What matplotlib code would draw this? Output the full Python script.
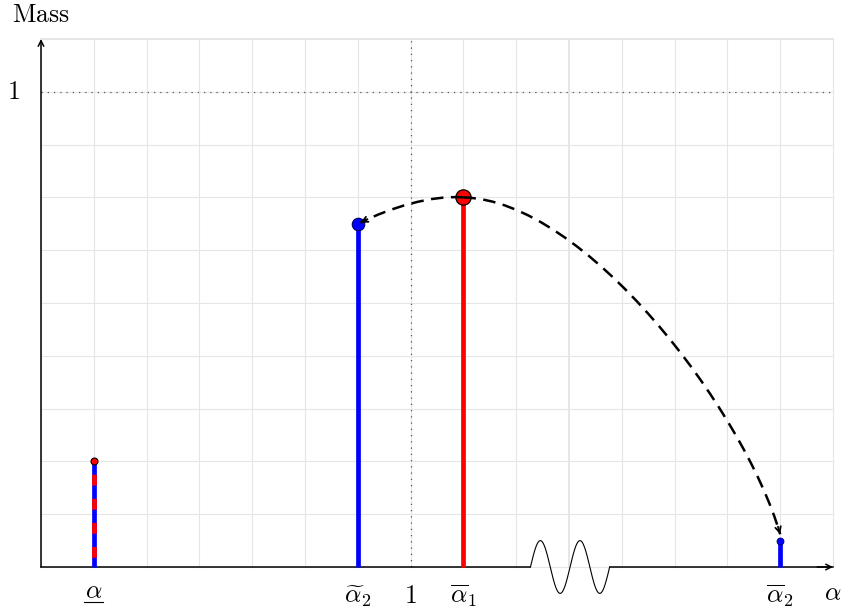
"""
質量移動の模式図
"""
import numpy as np
import matplotlib
matplotlib.use("Agg")
import matplotlib.pyplot as plt
from matplotlib.path import Path
from matplotlib.patches import PathPatch

plt.rcParams["mathtext.fontset"] = "cm"
plt.rcParams["font.family"] = "serif"
plt.rcParams["font.serif"] = ["DejaVu Serif"]

# --- data (grid units, mass 1 = 9) ---
x_max, y_max = 15, 10
mass_one = 9
x_alpha_low, x_alpha2_tilde, x_one, x_alpha1_bar, x_alpha2_bar = 1, 6, 7, 8, 14
h_alpha_low = 2.0
h_alpha2_tilde = 6.5
h_alpha1_bar = 7.0
h_alpha2_bar = 0.5
break_start, break_end = 9.27, 10.77
tick_pos = [x_alpha_low, x_alpha2_tilde, x_one, x_alpha1_bar, x_alpha2_bar]
tick_labels = [r"$\alpha$", r"$\widetilde{\alpha}_2$", r"$1$",
               r"$\overline{\alpha}_1$", r"$\overline{\alpha}_2$"]

RED = "#ff0000"
BLUE = "#0000ff"
GRID = "#e6e6e6"

fig = plt.figure(figsize=(8.43, 6.12), dpi=100)
ax = fig.add_axes([0, 0, 1, 1])
# 1 unit = 52.8 px, origin at (41, 567) px
u = 52.8
ax.set_xlim(-41 / u, x_max + 10 / u)
ax.set_ylim(-(612 - 567) / u, y_max + 39 / u)
ax.axis("off")

# grid
for gx in range(0, x_max + 1):
    ax.plot([gx, gx], [0, y_max], color=GRID, lw=1.4 if gx == 10 else 0.8, zorder=0)
for gy in range(0, y_max + 1):
    ax.plot([0, x_max], [gy, gy], color=GRID, lw=1.4 if gy == y_max else 0.8, zorder=0)

# dotted reference lines
ax.plot([0, x_max], [mass_one, mass_one], color="#555555", lw=0.9,
        linestyle=(0, (1, 4)), zorder=1)
ax.plot([x_one, x_one], [0, y_max], color="#555555", lw=0.9,
        linestyle=(0, (1, 4)), zorder=1)

# axes
ax.plot([0, break_start], [0, 0], color="black", lw=1.1, zorder=3)
ax.plot([break_end, x_max], [0, 0], color="black", lw=1.1, zorder=3)
ax.annotate("", xy=(x_max, 0), xytext=(x_max - 0.3, 0),
            arrowprops=dict(arrowstyle="->", lw=1.1, color="black",
                            mutation_scale=10, shrinkA=0, shrinkB=0), zorder=3)
ax.annotate("", xy=(0, y_max), xytext=(0, -0.0),
            arrowprops=dict(arrowstyle="->", lw=1.1, color="black",
                            mutation_scale=10, shrinkA=0, shrinkB=0), zorder=3)

# axis break (wave)
t = np.linspace(0, 1, 200)
ax.plot(break_start + t * (break_end - break_start),
        0.5 * np.sin(2 * np.pi * 2 * t), color="black", lw=0.8, zorder=3)

# stems
ax.plot([x_alpha_low] * 2, [0, h_alpha_low], color=BLUE, lw=3.4,
        solid_capstyle="butt", zorder=4)
ax.plot([x_alpha_low] * 2, [h_alpha_low, 0], color=RED, lw=3.4,
        linestyle=(2.3, (2.3, 2.8)), dash_capstyle="butt", zorder=5)
ax.plot(x_alpha_low, h_alpha_low, "o", ms=5, mfc=RED, mec="black", mew=0.8, zorder=6)

ax.plot([x_alpha2_tilde] * 2, [0, h_alpha2_tilde], color=BLUE, lw=3.4,
        solid_capstyle="butt", zorder=4)
ax.plot(x_alpha2_tilde, h_alpha2_tilde, "o", ms=9, mfc=BLUE, mec="#000066",
        mew=0.8, zorder=6)

ax.plot([x_alpha1_bar] * 2, [0, h_alpha1_bar], color=RED, lw=3.4,
        solid_capstyle="butt", zorder=4)
ax.plot(x_alpha1_bar, h_alpha1_bar, "o", ms=11, mfc=RED, mec="black",
        mew=0.9, zorder=6)

ax.plot([x_alpha2_bar] * 2, [0, h_alpha2_bar], color=BLUE, lw=3.4,
        solid_capstyle="butt", zorder=4)
ax.plot(x_alpha2_bar, h_alpha2_bar, "o", ms=5, mfc=BLUE, mec="#000066",
        mew=0.6, zorder=6)


# dashed arcs with arrow heads
def curved_arrow(p0, p1, p2, p3):
    path = Path([p0, p1, p2, p3],
                [Path.MOVETO, Path.CURVE4, Path.CURVE4, Path.CURVE4])
    ax.add_patch(PathPatch(path, fill=False, color="black", lw=1.8,
                           linestyle=(0, (5, 3)), zorder=7))
    d = np.array(p3) - np.array(p2)
    d = d / np.hypot(*d)
    ax.annotate("", xy=p3, xytext=(p3[0] - 0.15 * d[0], p3[1] - 0.15 * d[1]),
                arrowprops=dict(arrowstyle="->", lw=1.3, color="black",
                                mutation_scale=10, shrinkA=0, shrinkB=0),
                zorder=7)


curved_arrow((x_alpha1_bar, h_alpha1_bar), (7.4, 7.05), (6.6, 6.8),
             (x_alpha2_tilde + 0.05, h_alpha2_tilde + 0.02))
curved_arrow((x_alpha1_bar, h_alpha1_bar), (10.3, 6.95), (13.3, 3.0),
             (x_alpha2_bar, h_alpha2_bar + 0.12))

# labels
fs = 18.5
for pos, lab in zip(tick_pos, tick_labels):
    yb = -(598 - 567) / u if pos == x_alpha_low else -(603 - 567) / u
    ax.text(pos, yb, lab, ha="center", va="baseline", fontsize=fs)
# underline for alpha lower
ax.plot([x_alpha_low - 0.18, x_alpha_low + 0.18], [-(602 - 567) / u] * 2,
        color="black", lw=0.8)
ax.text(x_max, -(600 - 567) / u, r"$\alpha$", ha="center", va="baseline", fontsize=fs)
ax.text(0, (567 - 22) / u, r"$\mathrm{Mass}$", ha="center",
        va="baseline", fontsize=fs)
ax.text(-21 / u, mass_one, r"$1$", ha="right", va="center", fontsize=fs)

plt.savefig("out.png", dpi=100)
plt.close()
